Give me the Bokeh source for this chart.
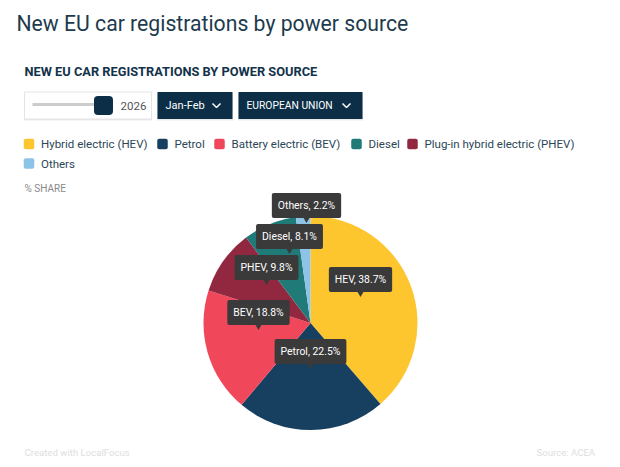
from math import pi
import numpy as np
from bokeh.embed import file_html
from bokeh.models import Label, Range1d
from bokeh.plotting import figure
from bokeh.resources import INLINE

# pie, clockwise from 12 o'clock
short_names = ["HEV", "Petrol", "BEV", "PHEV", "Diesel", "Others"]
shares = [38.7, 22.5, 18.8, 9.8, 8.1, 2.2]
slice_colors = ["#fdc62e", "#173f5f", "#f0475a", "#92283f", "#1f7a78", "#8ec3e8"]

# legend
legend_names = ["Hybrid electric (HEV)", "Petrol", "Battery electric (BEV)", "Diesel",
                "Plug-in hybrid electric (PHEV)", "Others"]
legend_colors = ["#fdc62e", "#173f5f", "#f0475a", "#1f7a78", "#92283f", "#8ec3e8"]
legend_x = [23.5, 157, 214, 351, 407, 23.5]
legend_y = [143.5, 143.5, 143.5, 143.5, 143.5, 163]

# tooltip centres
tip_x = [360, 310, 258, 266, 289, 306]
tip_y = [279, 351, 312, 267, 236, 205]

FONT = "Roboto"
NAVY = "#0c2f47"
W, H = 612, 459


def Y(y):
    return H - y


p = figure(width=W, height=H, output_backend="svg", toolbar_location=None,
           x_range=Range1d(0, W), y_range=Range1d(0, H),
           min_border=0, outline_line_color=None, x_axis_type=None, y_axis_type=None)
p.grid.visible = False
p.background_fill_color = "white"
p.border_fill_color = "white"


def text(x, y, s, size, color, style="normal", align="left"):
    p.add_layout(Label(x=x, y=Y(y), text=s, text_font=FONT, text_font_size=f"{size}px",
                       text_color=color, text_font_style=style, text_align=align,
                       text_baseline="middle"))


text(16, 23, "New EU car registrations by power source", 21.2, "#1d3b4d")
text(24, 71, "NEW EU CAR REGISTRATIONS BY POWER SOURCE", 12.8, "#12324a", "bold")

# faint shadow under the controls
p.rect(x=[87.5, 194.5, 300], y=Y(106.5), width=[128, 76, 125], height=27,
       fill_color="#e9e9e9", line_color=None)

# slider box and two dropdowns
p.rect(x=87.5, y=Y(105), width=127, height=27, fill_color="white",
       line_color="#e4e4e4", line_width=1)
p.line([32, 96], [Y(104), Y(104)], line_color="#cccccc", line_width=3)
p.rect(x=103, y=Y(105), width=19, height=19, fill_color=NAVY, line_color=None, border_radius=4)
text(120, 105, "2026", 11.5, "#555555")

p.rect(x=194.5, y=Y(105), width=75, height=27, fill_color=NAVY, line_color=None)
text(165, 105, "Jan-Feb", 11, "white")
p.rect(x=300, y=Y(105), width=124, height=27, fill_color=NAVY, line_color=None)
text(246, 105, "EUROPEAN UNION", 10.3, "white")
for cx in [216, 346]:
    p.line([cx - 4, cx, cx + 4], [Y(103), Y(107), Y(103)], line_color="white", line_width=1.5)

# legend
p.rect(x=[v + 5 for v in legend_x], y=[Y(v) for v in legend_y], width=10.5, height=10.5,
       fill_color=legend_colors, line_color=None, border_radius=2)
for x, y, name in zip(legend_x, legend_y, legend_names):
    text(x + 17, y, name, 11.5, "#2b4656")

text(24, 188, "% SHARE", 10, "#8a8a8a")

# pie
fractions = np.array(shares) / sum(shares)
ends = np.cumsum(fractions)
starts = ends - fractions
p.wedge(x=310, y=Y(322.5), radius=107,
        start_angle=pi / 2 - 2 * pi * ends, end_angle=pi / 2 - 2 * pi * starts,
        direction="anticlock", fill_color=slice_colors, line_color=None)

# tooltips
p.scatter(x=tip_x, y=[Y(v + 13) for v in tip_y], marker="inverted_triangle", size=8,
          fill_color="#3a3a3a", line_color=None)
for x, y, name, share in zip(tip_x, tip_y, short_names, shares):
    p.add_layout(Label(x=x, y=Y(y), text=f"{name}, {share}%", text_font=FONT,
                       text_font_size="10.4px", text_color="white", text_align="center",
                       text_baseline="middle", background_fill_color="#3a3a3a",
                       padding=6, border_radius=2))

text(24, 452, "Created with LocalFocus", 9.6, "#dedede")
text(597, 452, "Source:  ACEA", 9.6, "#dedede", align="right")

open("out.html", "w").write(file_html(p, INLINE))
